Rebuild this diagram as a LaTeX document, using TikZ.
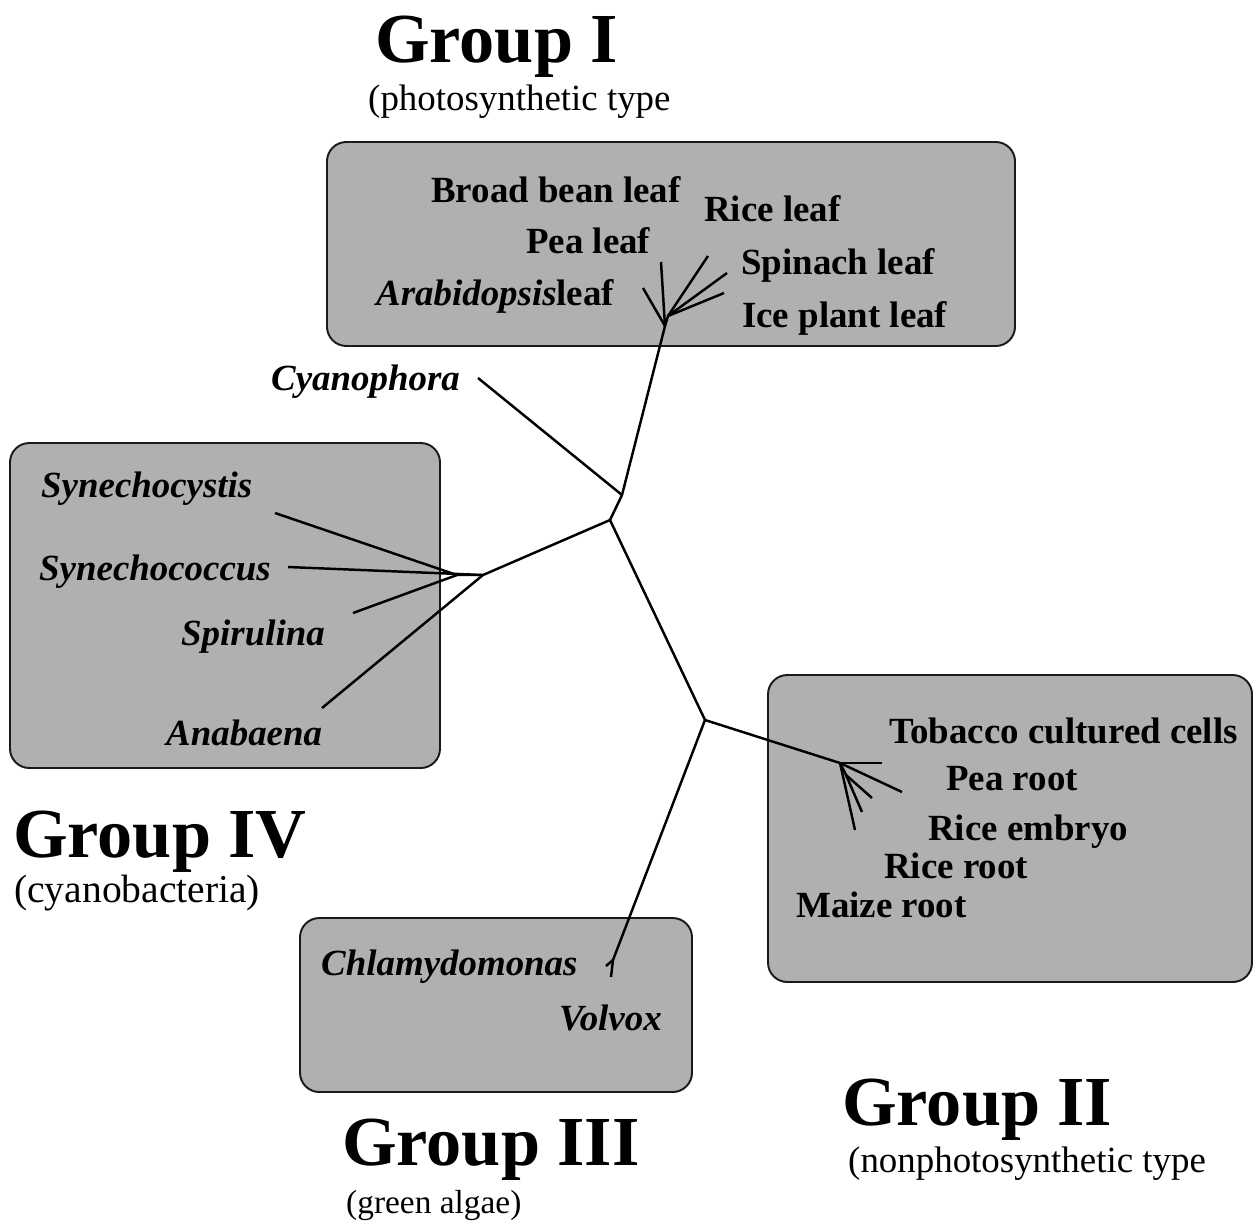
\documentclass[tikz,border=0pt]{standalone}
\usepackage{fontspec}
\setmainfont{Liberation Serif}
\usepackage{xcolor}
\usepackage{tikz}
\definecolor{boxgray}{HTML}{B0B0B0}
\definecolor{boxrule}{HTML}{1A1A1A}

\begin{document}
\begin{tikzpicture}[x=0.02cm, y=-0.02cm, line width=1.4pt,
  every node/.style={inner sep=0pt, anchor=base west},
  grp/.style={font=\fontsize{40}{40}\selectfont\bfseries},
  sub/.style={font=\fontsize{21}{22}\selectfont},
  lab/.style={font=\fontsize{21}{22}\selectfont\bfseries},
  ilab/.style={font=\fontsize{21}{22}\selectfont\bfseries\itshape},
  gbox/.style={draw=boxrule, fill=boxgray, line width=1.1pt, rounded corners=11pt}]

\useasboundingbox (0,0) rectangle (1256,1231);

% ---------------- shaded boxes ---------------------------------------------
\draw[gbox] (327,142) rectangle (1015,346);
\draw[gbox] (10,443) rectangle (440,768);
\draw[gbox] (768,675) rectangle (1252,982);
\draw[gbox] (300,918) rectangle (692,1092);

% ---------------- group titles ---------------------------------------------
\node[grp] (gI)   at (374,62)   {Group I};
\node[sub] (sI)   at (367,110)  {(photosynthetic type};
\node[grp] (gIV)  at (12,857)   {Group IV};
\node[sub, font=\fontsize{22.5}{23}\selectfont] (sIV) at (13,902) {(cyanobacteria)};
\node[grp] (gIII) at (341,1165) {Group III};
\node[sub, font=\fontsize{19}{20}\selectfont] (sIII) at (345,1213) {(green algae)};
\node[grp] (gII)  at (841,1125) {Group II};
\node[sub] (sII)  at (847,1172) {(nonphotosynthetic type};

% ---------------- leaf labels ----------------------------------------------
\node[lab]  (broad)   at (430,202) {Broad bean leaf};
\node[lab]  (riceL)   at (703,221) {Rice leaf};
\node[lab]  (peaL)    at (525,253) {Pea leaf};
\node[lab]  (spinach) at (740,274) {Spinach leaf};
\node[lab]  (arab)    at (375,305) {\textit{Arabidopsis}leaf};
\node[lab]  (ice)     at (741,327) {Ice plant leaf};
\node[ilab] (cyano)   at (270,390) {Cyanophora};
\node[ilab] (synC)    at (40,497)  {Synechocystis};
\node[ilab] (synK)    at (38,580)  {Synechococcus};
\node[ilab] (spir)    at (180,645) {Spirulina};
\node[ilab] (anab)    at (165,745) {Anabaena};
\node[lab]  (tob)     at (888,743) {Tobacco cultured cells};
\node[lab]  (peaR)    at (945,790) {Pea root};
\node[lab]  (riceE)   at (927,840) {Rice embryo};
\node[lab]  (riceR)   at (883,878) {Rice root};
\node[lab]  (maize)   at (795,917) {Maize root};
\node[ilab] (chlam)   at (320,975) {Chlamydomonas};
\node[ilab] (volvox)  at (558,1030) {Volvox};

% ---------------- tree junctions -------------------------------------------
\coordinate (jI)   at (665,326);
\coordinate (jIb)  at (668,316);
\coordinate (jCy)  at (622,495);
\coordinate (root) at (610,520);
\coordinate (jIV)  at (483,575);
\coordinate (jIVb) at (457,575);
\coordinate (jX)   at (705,720);
\coordinate (jII)  at (840,763);
\coordinate (jIIb) at (846,775);
\coordinate (jIII) at (613,960);

% ---------------- tree tips ------------------------------------------------
\coordinate (tI1) at (661,262);
\coordinate (tI2) at (643,288);
\coordinate (tI3) at (708,256);
\coordinate (tI4) at (727,273);
\coordinate (tI5) at (724,293);
\coordinate (tCy) at (478,378);
\coordinate (tIV1) at (275,513);
\coordinate (tIV2) at (288,567);
\coordinate (tIV3) at (353,613);
\coordinate (tIV4) at (322,708);
\coordinate (tII1) at (882,763);
\coordinate (tII2) at (902,792);
\coordinate (tII3) at (872,798);
\coordinate (tII4) at (862,812);
\coordinate (tII5) at (855,830);
\coordinate (tIII1) at (611,977);
\coordinate (tIII2) at (606,966);

% ---------------- branches -------------------------------------------------
\draw (jI) -- (tI1);
\draw (jI) -- (tI2);
\draw (jI) -- (jIb) -- (tI3);
\draw (jIb) -- (tI4);
\draw (jIb) -- (tI5);
\draw (jI) -- (jCy) -- (root);
\draw (jCy) -- (tCy);
\draw (root) -- (jIV) -- (jIVb);
\draw (jIVb) -- (tIV1);
\draw (jIV) -- (tIV2);
\draw (jIVb) -- (tIV3);
\draw (jIV) -- (tIV4);
\draw (root) -- (jX) -- (jII);
\draw (jII) -- (tII1);
\draw (jII) -- (tII2);
\draw (jII) -- (jIIb) -- (tII3);
\draw (jIIb) -- (tII4);
\draw (jII) -- (tII5);
\draw (jX) -- (jIII) -- (tIII1);
\draw (jIII) -- (tIII2);

\end{tikzpicture}
\end{document}
